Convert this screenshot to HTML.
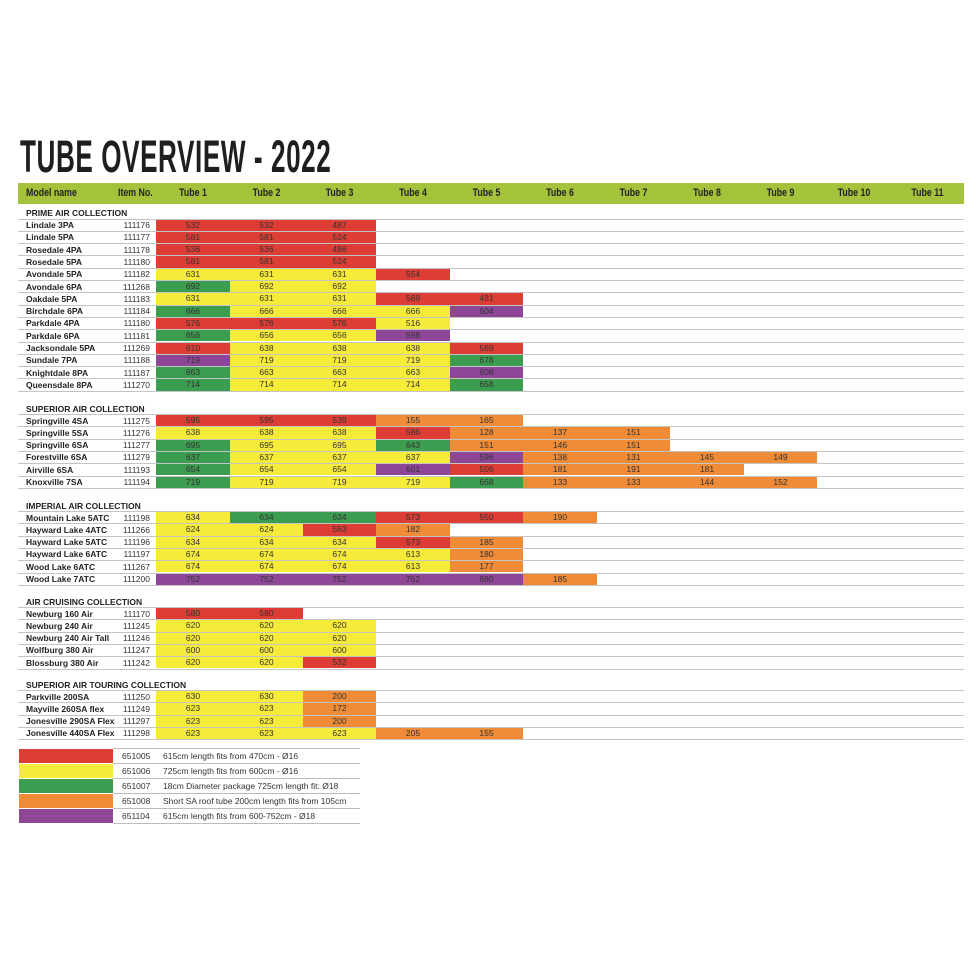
<!DOCTYPE html>
<html><head><meta charset="utf-8"><style>
body{margin:0;width:980px;height:980px;background:#fff;position:relative;overflow:hidden;font-family:"Liberation Sans",sans-serif}
.a{position:absolute}
.t{left:20px;top:131px;font-size:45px;font-weight:bold;color:#1e1e1e;transform:scaleX(0.58);transform-origin:0 0;white-space:nowrap;letter-spacing:1px}
.hd{left:18px;top:183px;width:946px;height:21px;background:#a4c23a}
.h{font-size:11px;font-weight:bold;color:#222;top:187px;transform:scaleX(0.8);white-space:nowrap}
.sec{font-size:8.5px;font-weight:bold;color:#222;left:26px;white-space:nowrap}
.ln{left:18px;width:946px;height:1px;background:#c4c4c4}
.nm{font-size:8.5px;font-weight:bold;color:#222;left:26px;white-space:nowrap}
.it{font-size:8.5px;color:#333;width:60px;left:90px;text-align:right}
.c{font-size:8.5px;color:#333;text-align:center}
</style></head><body>
<div class="a t">TUBE OVERVIEW - 2022</div>
<div class="a hd"></div>
<div id="root"></div>
<script>
var R='#dc3d34',Y='#f7eb3a',G='#3c9c4f',O='#f08b37',P='#8e4697';
var M={R:R,Y:Y,G:G,O:O,P:P};
var root=document.getElementById('root');var h='';
function d(cls,st,txt){h+='<div class="a '+cls+'" style="'+st+'">'+(txt||'')+'</div>';}
var colX=[156,230,303,376,450,523,597,670,744,817,891,964];
d('h','left:26px;transform-origin:0 0','Model name');
d('h','left:118px;transform-origin:0 0','Item No.');
for(var i=0;i<11;i++){d('h','left:'+colX[i]+'px;width:'+(colX[i+1]-colX[i])+'px;text-align:center','Tube '+(i+1));}
var secs=[
['PRIME AIR COLLECTION',213,219.5,[
['Lindale 3PA','111176','R532 R532 R487'],['Lindale 5PA','111177','R581 R581 R524'],['Rosedale 4PA','111178','R536 R536 R486'],['Rosedale 5PA','111180','R581 R581 R524'],['Avondale 5PA','111182','Y631 Y631 Y631 R554'],['Avondale 6PA','111268','G692 Y692 Y692'],['Oakdale 5PA','111183','Y631 Y631 Y631 R569 R481'],['Birchdale 6PA','111184','G666 Y666 Y666 Y666 P604'],['Parkdale 4PA','111180','R576 R576 R576 Y516'],['Parkdale 6PA','111181','G656 Y656 Y656 P598'],['Jacksondale 5PA','111269','R610 Y638 Y638 Y638 R569'],['Sundale 7PA','111188','P719 Y719 Y719 Y719 G678'],['Knightdale 8PA','111187','G663 Y663 Y663 Y663 P608'],['Queensdale 8PA','111270','G714 Y714 Y714 Y714 G658']]],
['SUPERIOR AIR COLLECTION',409,415,[
['Springville 4SA','111275','R595 R595 R539 O155 O165'],['Springville 5SA','111276','Y638 Y638 Y638 R586 O128 O137 O151'],['Springville 6SA','111277','G695 Y695 Y695 G643 O151 O146 O151'],['Forestville 6SA','111279','G637 Y637 Y637 Y637 P596 O138 O131 O145 O149'],['Airville 6SA','111193','G654 Y654 Y654 P601 R506 O181 O191 O181'],['Knoxville 7SA','111194','G719 Y719 Y719 Y719 G668 O133 O133 O144 O152']]],
['IMPERIAL AIR COLLECTION',506,512,[
['Mountain Lake 5ATC','111198','Y634 G634 G634 R573 R550 O190'],['Hayward Lake 4ATC','111266','Y624 Y624 R563 O182'],['Hayward Lake 5ATC','111196','Y634 Y634 Y634 R573 O185'],['Hayward Lake 6ATC','111197','Y674 Y674 Y674 Y613 O180'],['Wood Lake 6ATC','111267','Y674 Y674 Y674 Y613 O177'],['Wood Lake 7ATC','111200','P752 P752 P752 P752 P680 O185']]],
['AIR CRUISING COLLECTION',602,608,[
['Newburg 160 Air','111170','R580 R580'],['Newburg 240 Air','111245','Y620 Y620 Y620'],['Newburg 240 Air Tall','111246','Y620 Y620 Y620'],['Wolfburg 380 Air','111247','Y600 Y600 Y600'],['Blossburg 380 Air','111242','Y620 Y620 R532']]],
['SUPERIOR AIR TOURING COLLECTION',685,691,[
['Parkville 200SA','111250','Y630 Y630 O200'],['Mayville 260SA flex','111249','Y623 Y623 O172'],['Jonesville 290SA Flex','111297','Y623 Y623 O200'],['Jonesville 440SA Flex','111298','Y623 Y623 Y623 O205 O155']]]];
var RH=12.3;
secs.forEach(function(s){
 d('sec','top:'+(s[1]-5.5)+'px',s[0]);
 d('ln','top:'+(s[2]-1)+'px');
 s[3].forEach(function(r,j){
  var y=s[2]+j*RH;
  r[2].split(' ').forEach(function(c,k){
   d('c','left:'+colX[k]+'px;width:'+(colX[k+1]-colX[k])+'px;top:'+y+'px;height:'+(RH-1)+'px;line-height:'+(RH-1)+'px;background:'+M[c[0]],c.slice(1));
  });
  d('nm','top:'+(y+0.5)+'px;line-height:11px',r[0]);
  d('it','top:'+(y+0.5)+'px;line-height:11px',r[1]);
  d('ln','top:'+(y+RH-1)+'px');
 });
});
var leg=[[R,'651005','615cm length fits from 470cm - Ø16'],[Y,'651006','725cm length fits from 600cm - Ø16'],[G,'651007','18cm Diameter package 725cm length fit: Ø18'],[O,'651008','Short SA roof tube 200cm length fits from 105cm'],[P,'651104','615cm length fits from 600-752cm - Ø18']];
leg.forEach(function(l,i){
 var y=749+i*15;
 d('','left:19px;top:'+y+'px;width:94px;height:14px;background:'+l[0]);
 d('','left:113px;top:'+(y+14)+'px;width:247px;height:1px;background:#bbb');
 d('','left:122px;top:'+y+'px;line-height:14px;font-size:8.5px;color:#333;white-space:nowrap',l[1]);
 d('','left:163px;top:'+y+'px;line-height:14px;font-size:8.5px;color:#333;white-space:nowrap',l[2]);
});
d('','left:113px;top:748px;width:247px;height:1px;background:#bbb');
root.innerHTML=h;
</script>
</body></html>
